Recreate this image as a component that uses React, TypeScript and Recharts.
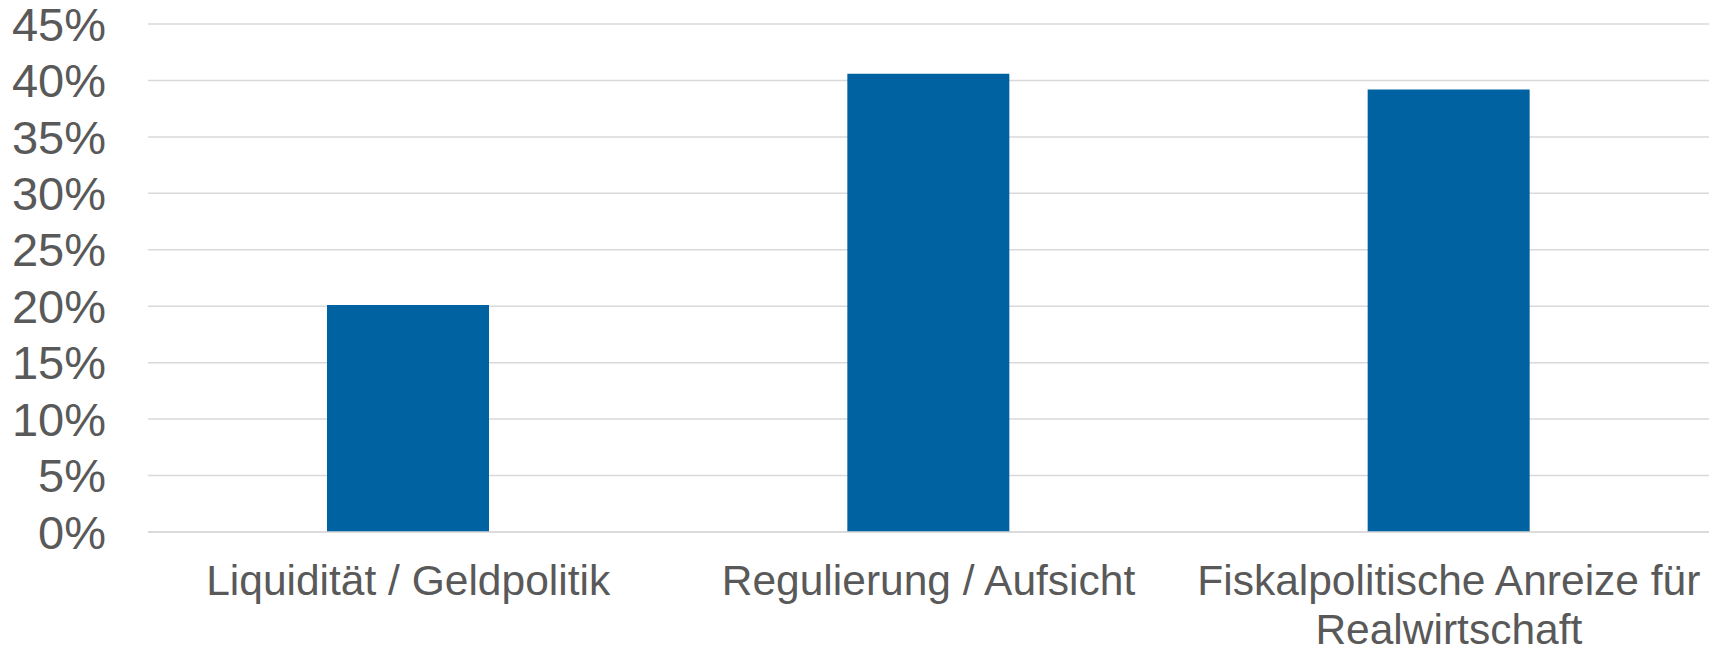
import { BarChart, Bar, XAxis, YAxis, CartesianGrid } from 'recharts';

const categories = [
  'Liquidität / Geldpolitik',
  'Regulierung / Aufsicht',
  'Fiskalpolitische Anreize für Realwirtschaft',
];
const shares = [20.1, 40.6, 39.2];
const yTicks = [0, 5, 10, 15, 20, 25, 30, 35, 40, 45];

const data = categories.map((name, i) => ({ name, value: shares[i] }));

const FONT = '"Liberation Sans", Arial, sans-serif';
const TEXT_COLOR = '#595959';
const LABEL_SIZE = 42.5;

// greedy word wrap, measured with a canvas
function wrap(text: string, maxWidth: number): string[] {
  const ctx = document.createElement('canvas').getContext('2d');
  if (!ctx) return [text];
  ctx.font = `${LABEL_SIZE}px ${FONT}`;
  const lines: string[] = [];
  let cur = '';
  for (const w of text.split(' ')) {
    const next = cur ? `${cur} ${w}` : w;
    if (cur && ctx.measureText(next).width > maxWidth) {
      lines.push(cur);
      cur = w;
    } else {
      cur = next;
    }
  }
  if (cur) lines.push(cur);
  return lines;
}

function CategoryTick(props: any) {
  const { x, y, payload } = props;
  const lines = wrap(String(payload.value), 515);
  return (
    <text
      x={x}
      y={y}
      textAnchor="middle"
      fill={TEXT_COLOR}
      fontSize={LABEL_SIZE}
      fontFamily={FONT}
    >
      {lines.map((l, i) => (
        <tspan key={i} x={x} dy={i === 0 ? '0.71em' : 49}>
          {l}
        </tspan>
      ))}
    </text>
  );
}

export default function App() {
  return (
    <div style={{ position: 'absolute', left: 0, top: 0, background: '#fff' }}>
      <BarChart
        width={1715}
        height={647}
        data={data}
        margin={{ top: 24, right: 6, bottom: 0, left: 0 }}
      >
        <CartesianGrid vertical={false} stroke="#d9d9d9" strokeWidth={1.5} />
        <XAxis
          dataKey="name"
          height={115}
          interval={0}
          tickLine={false}
          tickSize={0}
          tickMargin={33}
          axisLine={{ stroke: '#d9d9d9', strokeWidth: 1.5 }}
          tick={<CategoryTick />}
        />
        <YAxis
          width={148}
          domain={[0, 45]}
          ticks={yTicks}
          interval={0}
          axisLine={false}
          tickLine={false}
          tickSize={0}
          tickMargin={42}
          tickFormatter={(v: number) => `${v}%`}
          tick={{ fill: TEXT_COLOR, fontSize: 47, fontFamily: FONT }}
        />
        <Bar dataKey="value" fill="#0062a1" barSize={162} isAnimationActive={false} />
      </BarChart>
    </div>
  );
}
